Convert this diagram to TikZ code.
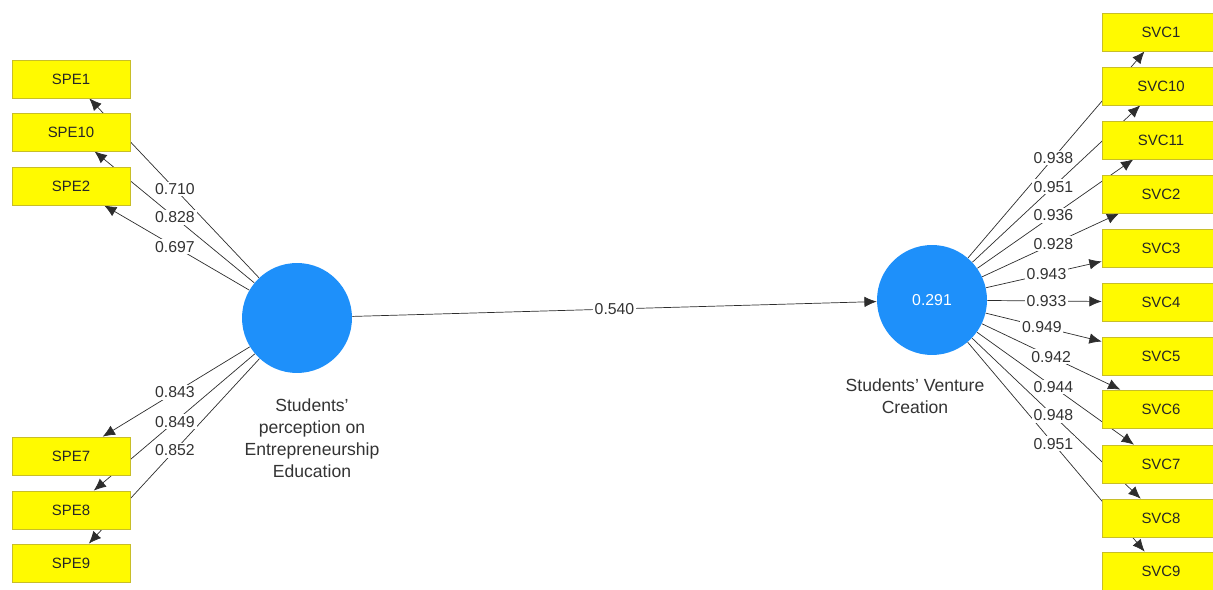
\documentclass[tikz,border=0pt]{standalone}
\usepackage{fontspec}
\setmainfont{Liberation Sans}
\usetikzlibrary{arrows.meta, calc, backgrounds}
\definecolor{boxyellow}{RGB}{255, 250, 0}
\definecolor{boxedge}{RGB}{200, 190, 40}
\definecolor{lvblue}{RGB}{30, 144, 250}
\definecolor{pathgray}{RGB}{45, 45, 45}

\begin{document}
\begin{tikzpicture}[
  x=0.02cm, y=-0.02cm,
  ind/.style={draw=boxedge, fill=boxyellow, minimum width=2.36cm, minimum height=0.76cm,
              inner sep=0pt, font=\fontsize{8.5}{10}\selectfont, text=black!85},
  lv/.style={circle, fill=lvblue, minimum size=2.2cm, inner sep=0pt,
             font=\fontsize{9}{10}\selectfont, text=white},
  arr/.style={-{Latex[length=7pt, width=6pt]}, thin, pathgray},
  val/.style={fill=white, inner sep=1pt, font=\fontsize{9}{10}\selectfont, text=black!80},
  lvcap/.style={align=center, font=\fontsize{10}{12.5}\selectfont, text=black!80}
]
  \useasboundingbox (0,0) rectangle (1213,590);

  % latent variables
  \node[lv] (spe) at (297,318) {};
  \node[lv] (svc) at (932,300) {0.291};
  \node[lvcap] (spetxt) at (312,438) {Students'\\perception on\\Entrepreneurship\\Education};
  \node[lvcap] (svctxt) at (915,396) {Students' Venture\\Creation};

  % indicators of SPE
  \node[ind] (spe1) at (71,79) {SPE1};
  \node[ind] (spe10) at (71,132) {SPE10};
  \node[ind] (spe2) at (71,186) {SPE2};
  \node[ind] (spe7) at (71,456) {SPE7};
  \node[ind] (spe8) at (71,510) {SPE8};
  \node[ind] (spe9) at (71,563) {SPE9};

  % indicators of SVC
  \node[ind] (svc1) at (1161,32) {SVC1};
  \node[ind] (svc10) at (1161,86) {SVC10};
  \node[ind] (svc11) at (1161,140) {SVC11};
  \node[ind] (svc2) at (1161,194) {SVC2};
  \node[ind] (svc3) at (1161,248) {SVC3};
  \node[ind] (svc4) at (1161,302) {SVC4};
  \node[ind] (svc5) at (1161,356) {SVC5};
  \node[ind] (svc6) at (1161,409) {SVC6};
  \node[ind] (svc7) at (1161,464) {SVC7};
  \node[ind] (svc8) at (1161,518) {SVC8};
  \node[ind] (svc9) at (1161,571) {SVC9};

  \begin{scope}[on background layer]
    \draw[arr] (spe) -- (svc);
    \draw[arr] (spe) -- (spe1);
    \draw[arr] (spe) -- (spe10);
    \draw[arr] (spe) -- (spe2);
    \draw[arr] (spe) -- (spe7);
    \draw[arr] (spe) -- (spe8);
    \draw[arr] (spe) -- (spe9);
    \draw[arr] (svc) -- (svc1);
    \draw[arr] (svc) -- (svc10);
    \draw[arr] (svc) -- (svc11);
    \draw[arr] (svc) -- (svc2);
    \draw[arr] (svc) -- (svc3);
    \draw[arr] (svc) -- (svc4);
    \draw[arr] (svc) -- (svc5);
    \draw[arr] (svc) -- (svc6);
    \draw[arr] (svc) -- (svc7);
    \draw[arr] (svc) -- (svc8);
    \draw[arr] (svc) -- (svc9);
  \end{scope}

  % path coefficient and loadings
  \node[val] (b1) at ($(spe)!0.5!(svc)$) {0.540};
  \node[val] (l1) at ($(spe)!0.54!(spe1)$) {0.710};
  \node[val] (l10) at ($(spe)!0.54!(spe10)$) {0.828};
  \node[val] (l2) at ($(spe)!0.54!(spe2)$) {0.697};
  \node[val] (l7) at ($(spe)!0.54!(spe7)$) {0.843};
  \node[val] (l8) at ($(spe)!0.54!(spe8)$) {0.849};
  \node[val] (l9) at ($(spe)!0.54!(spe9)$) {0.852};
  \node[val] (m1) at ($(svc)!0.53!(svc1)$) {0.938};
  \node[val] (m10) at ($(svc)!0.53!(svc10)$) {0.951};
  \node[val] (m11) at ($(svc)!0.53!(svc11)$) {0.936};
  \node[val] (m2) at ($(svc)!0.53!(svc2)$) {0.928};
  \node[val] (m3) at ($(svc)!0.50!(svc3)$) {0.943};
  \node[val] (m4) at ($(svc)!0.50!(svc4)$) {0.933};
  \node[val] (m5) at ($(svc)!0.48!(svc5)$) {0.949};
  \node[val] (m6) at ($(svc)!0.52!(svc6)$) {0.942};
  \node[val] (m7) at ($(svc)!0.53!(svc7)$) {0.944};
  \node[val] (m8) at ($(svc)!0.53!(svc8)$) {0.948};
  \node[val] (m9) at ($(svc)!0.53!(svc9)$) {0.951};
\end{tikzpicture}
\end{document}
